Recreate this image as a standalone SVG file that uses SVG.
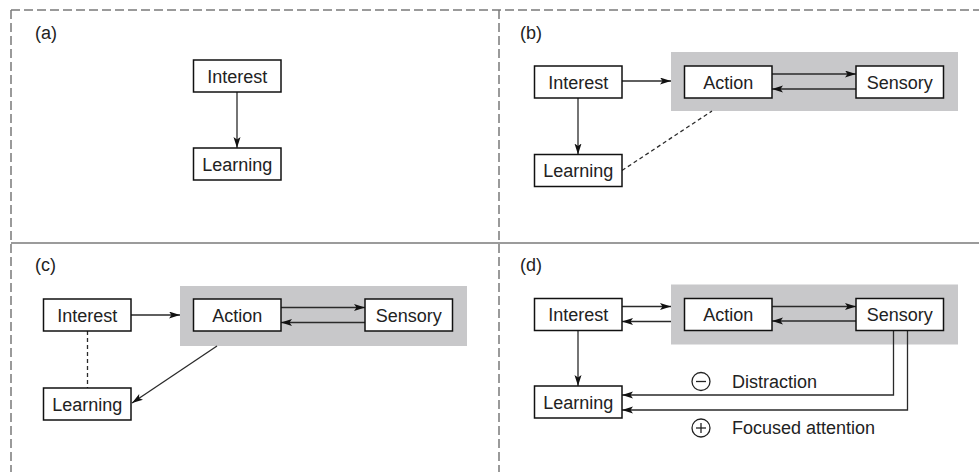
<svg xmlns="http://www.w3.org/2000/svg" width="979" height="472" viewBox="0 0 979 472">
  <style>
    .frame { stroke: #7a7a7a; stroke-width: 1.5; fill: none; }
    .dashframe { stroke-dasharray: 9 4; }
    .group { fill: #c8c8ca; stroke: none; }
    .box rect { fill: #ffffff; stroke: #111111; stroke-width: 1.5; }
    text { font-family: "Liberation Sans", Arial, sans-serif; font-size: 18px; fill: #222222; }
    .box text { text-anchor: middle; }
    .link { stroke: #2a2a2a; stroke-width: 1.3; fill: none; }
    .arrow { marker-end: url(#head); }
    .dash { stroke-dasharray: 4 3; }
    .sign { fill: none; stroke: #222222; stroke-width: 1.3; }
  </style>
  <defs>
    <marker id="head" markerUnits="userSpaceOnUse" markerWidth="12" markerHeight="8" refX="11" refY="3.5" orient="auto">
      <path d="M0,0 L11,3.5 L0,7 L2.5,3.5 z" fill="#111111"/>
    </marker>
  </defs>

  <!-- panel frame -->
  <g id="frame">
    <line class="frame dashframe" x1="11" y1="10" x2="979" y2="10"/>
    <line class="frame dashframe" x1="11" y1="10" x2="11" y2="472"/>
    <line class="frame dashframe" x1="499" y1="10" x2="499" y2="472"/>
    <line class="frame" x1="11" y1="243" x2="979" y2="243"/>
  </g>

  <!-- panel labels -->
  <g id="labels">
    <text x="35" y="39">(a)</text>
    <text x="520" y="39">(b)</text>
    <text x="35" y="271">(c)</text>
    <text x="520" y="271">(d)</text>
  </g>

  <!-- grey groupings of Action and Sensory -->
  <g id="groups">
    <rect class="group" x="671" y="52" width="287" height="59"/>
    <rect class="group" x="180" y="286" width="287" height="60"/>
    <rect class="group" x="671" y="284.5" width="287" height="60"/>
  </g>

  <!-- connectors -->
  <g id="connectors">
    <!-- (a) -->
    <line class="link arrow" x1="237" y1="92" x2="237" y2="148"/>
    <!-- (b) -->
    <line class="link arrow" x1="622" y1="81" x2="671" y2="81"/>
    <line class="link arrow" x1="772" y1="74" x2="856" y2="74"/>
    <line class="link arrow" x1="856" y1="89" x2="772" y2="89"/>
    <line class="link arrow" x1="578" y1="98" x2="578" y2="154.5"/>
    <line class="link dash" x1="622" y1="170.5" x2="712" y2="111"/>
    <!-- (c) -->
    <line class="link arrow" x1="131" y1="315" x2="180" y2="315"/>
    <line class="link arrow" x1="281" y1="307.5" x2="365" y2="307.5"/>
    <line class="link arrow" x1="365" y1="322.5" x2="281" y2="322.5"/>
    <line class="link dash" x1="87.5" y1="331" x2="87.5" y2="388"/>
    <line class="link arrow" x1="217" y1="346" x2="132" y2="403"/>
    <!-- (d) -->
    <line class="link arrow" x1="622" y1="306.5" x2="671" y2="306.5"/>
    <line class="link arrow" x1="671" y1="321.5" x2="622" y2="321.5"/>
    <line class="link arrow" x1="772" y1="306.5" x2="856" y2="306.5"/>
    <line class="link arrow" x1="856" y1="321" x2="772" y2="321"/>
    <line class="link arrow" x1="578" y1="330.5" x2="578" y2="386"/>
    <polyline class="link arrow" points="893.5,330.5 893.5,395 622,395"/>
    <polyline class="link arrow" points="907.5,330.5 907.5,410 622,410"/>
  </g>

  <!-- (a) nodes -->
  <g id="a-interest" class="box"><rect x="193.5" y="60" width="87.5" height="32"/><text x="237.25" y="82.5">Interest</text></g>
  <g id="a-learning" class="box"><rect x="193.5" y="148" width="87.5" height="32"/><text x="237.25" y="170.5">Learning</text></g>

  <!-- (b) nodes -->
  <g id="b-interest" class="box"><rect x="534.5" y="66" width="87.5" height="32"/><text x="578.25" y="88.5">Interest</text></g>
  <g id="b-action" class="box"><rect x="684.5" y="66" width="87.5" height="32"/><text x="728.25" y="88.5">Action</text></g>
  <g id="b-sensory" class="box"><rect x="856" y="66" width="87.5" height="32"/><text x="899.75" y="88.5">Sensory</text></g>
  <g id="b-learning" class="box"><rect x="534.5" y="154.5" width="87.5" height="32"/><text x="578.25" y="177">Learning</text></g>

  <!-- (c) nodes -->
  <g id="c-interest" class="box"><rect x="43.5" y="299" width="87.5" height="32"/><text x="87.25" y="321.5">Interest</text></g>
  <g id="c-action" class="box"><rect x="193.5" y="299" width="87.5" height="32"/><text x="237.25" y="321.5">Action</text></g>
  <g id="c-sensory" class="box"><rect x="365" y="299" width="87.5" height="32"/><text x="408.75" y="321.5">Sensory</text></g>
  <g id="c-learning" class="box"><rect x="43.5" y="388" width="87.5" height="32"/><text x="87.25" y="410.5">Learning</text></g>

  <!-- (d) nodes -->
  <g id="d-interest" class="box"><rect x="534.5" y="298.5" width="87.5" height="32"/><text x="578.25" y="321">Interest</text></g>
  <g id="d-action" class="box"><rect x="684.5" y="298.5" width="87.5" height="32"/><text x="728.25" y="321">Action</text></g>
  <g id="d-sensory" class="box"><rect x="856" y="298.5" width="87.5" height="32"/><text x="899.75" y="321">Sensory</text></g>
  <g id="d-learning" class="box"><rect x="534.5" y="386" width="87.5" height="32"/><text x="578.25" y="408.5">Learning</text></g>

  <!-- (d) path annotations -->
  <g id="d-distraction">
    <circle class="sign" cx="701" cy="381.5" r="9"/>
    <line class="sign" x1="696" y1="381.5" x2="706" y2="381.5"/>
    <text x="732" y="387.5">Distraction</text>
  </g>
  <g id="d-focused">
    <circle class="sign" cx="701" cy="428" r="9"/>
    <line class="sign" x1="696" y1="428" x2="706" y2="428"/>
    <line class="sign" x1="701" y1="423" x2="701" y2="433"/>
    <text x="732" y="434">Focused attention</text>
  </g>
</svg>
